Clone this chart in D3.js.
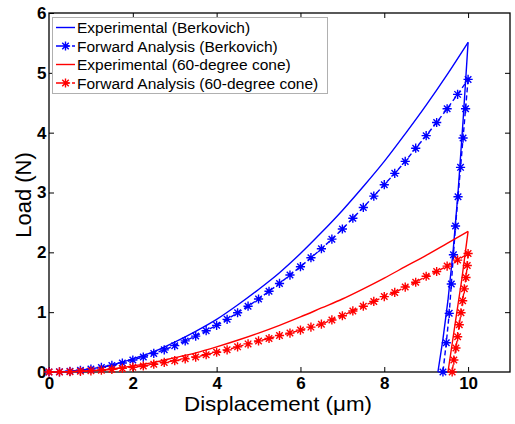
<!DOCTYPE html>
<html lang="en">
  <head>
    <meta charset="UTF-8" />
    <title>Load vs displacement</title>
    <style>
      body { margin: 0; background: #fff; }
      .axis text { font-family: "Liberation Sans", Arial, sans-serif; font-size: 17px; font-weight: bold; fill: #000; }
      .axis line { stroke: #000; stroke-width: 1; }
      .axis path { display: none; }
    </style>
  </head>
  <body>
    <div id="app"></div>
    <script src="https://cdn.jsdelivr.net/npm/d3@7"></script>
    <script>
      // Experimental (Berkovich) - solid blue
      const expBerkLoadD = [0, 0.5, 1, 1.5, 2, 2.5, 3, 3.5, 4, 4.5, 5, 5.5, 6, 6.5, 7, 7.5, 8, 8.5, 9, 9.5, 10];
      const expBerkLoadL = [0, 0.014, 0.055, 0.12, 0.22, 0.34, 0.5, 0.68, 0.88, 1.12, 1.38, 1.66, 1.98, 2.33, 2.7, 3.1, 3.52, 3.98, 4.46, 4.97, 5.51];
      const expBerkUnloadD = [10, 9.88, 9.76, 9.64, 9.52, 9.4, 9.28];
      const expBerkUnloadL = [5.51, 4.2, 3.0, 2.0, 1.2, 0.55, 0];

      // Forward Analysis (Berkovich) - blue dashed with stars
      const fwdBerkLoadD = [0, 0.25, 0.5, 0.75, 1, 1.25, 1.5, 1.75, 2, 2.25, 2.5, 2.75, 3, 3.25, 3.5, 3.75, 4, 4.25, 4.5, 4.75, 5,
        5.25, 5.5, 5.75, 6, 6.25, 6.5, 6.75, 7, 7.25, 7.5, 7.75, 8, 8.25, 8.5, 8.75, 9, 9.25, 9.5, 9.75, 10];
      const fwdBerkLoadL = [0, 0.003, 0.012, 0.028, 0.05, 0.077, 0.11, 0.15, 0.2, 0.25, 0.31, 0.37, 0.44, 0.52, 0.6, 0.69, 0.78, 0.88, 0.99, 1.1, 1.22,
        1.35, 1.48, 1.62, 1.76, 1.91, 2.06, 2.22, 2.39, 2.57, 2.75, 2.94, 3.13, 3.32, 3.52, 3.74, 3.95, 4.17, 4.4, 4.64, 4.89];
      const fwdBerkUnloadD = [10, 9.94, 9.88, 9.82, 9.76, 9.7, 9.65, 9.6, 9.55, 9.48, 9.4];
      const fwdBerkUnloadL = [4.89, 4.4, 3.91, 3.42, 2.93, 2.44, 1.96, 1.47, 0.98, 0.49, 0];

      // Experimental (60-degree cone) - solid red
      const expConeLoadD = [0, 0.5, 1, 1.5, 2, 2.5, 3, 3.5, 4, 4.5, 5, 5.5, 6, 6.5, 7, 7.5, 8, 8.5, 9, 9.5, 10];
      const expConeLoadL = [0, 0.005, 0.02, 0.05, 0.1, 0.16, 0.24, 0.32, 0.42, 0.53, 0.65, 0.78, 0.92, 1.07, 1.22, 1.39, 1.57, 1.76, 1.95, 2.15, 2.35];
      const expConeUnloadD = [10, 9.85, 9.7, 9.52];
      const expConeUnloadL = [2.35, 1.55, 0.85, 0];

      // Forward Analysis (60-degree cone) - red dashed with stars
      const fwdConeLoadD = fwdBerkLoadD;
      const fwdConeLoadL = [0, 0.002, 0.006, 0.012, 0.02, 0.03, 0.045, 0.06, 0.08, 0.1, 0.13, 0.16, 0.19, 0.22, 0.25, 0.29, 0.33, 0.37, 0.42, 0.47, 0.52,
        0.56, 0.61, 0.65, 0.7, 0.75, 0.8, 0.87, 0.94, 1.02, 1.1, 1.18, 1.26, 1.33, 1.42, 1.5, 1.6, 1.68, 1.77, 1.87, 1.98];
      const fwdConeUnloadD = [10, 9.98, 9.95, 9.91, 9.87, 9.83, 9.79, 9.75, 9.71, 9.66, 9.62];
      const fwdConeUnloadL = [1.98, 1.78, 1.58, 1.39, 1.19, 0.99, 0.79, 0.59, 0.4, 0.2, 0];

      const xTicks = [0, 2, 4, 6, 8, 10];
      const yTicks = [0, 1, 2, 3, 4, 5, 6];
      const legendLabels = [
        "Experimental (Berkovich)",
        "Forward Analysis (Berkovich)",
        "Experimental (60-degree cone)",
        "Forward Analysis (60-degree cone)"
      ];

      const width = 515, height = 424;
      const mLeft = 49, mRight = 510, mTop = 13, mBottom = 372;
      const blue = "#0000ff", red = "#ff0000";
      const font = '"Liberation Sans", Arial, sans-serif';

      const x = d3.scaleLinear().domain([0, 11]).range([mLeft, mRight]);
      const y = d3.scaleLinear().domain([0, 6]).range([mBottom, mTop]);

      const svg = d3.select("#app").append("svg")
        .attr("width", width).attr("height", height);

      const zip = (ds, ls) => ds.map((d, i) => [d, ls[i]]);
      const line = d3.line().x(d => x(d[0])).y(d => y(d[1]));
      const smooth = d3.line().x(d => x(d[0])).y(d => y(d[1])).curve(d3.curveMonotoneX);

      // axes
      svg.append("g").attr("class", "axis")
        .attr("transform", `translate(0,${mBottom})`)
        .call(d3.axisBottom(x).tickValues(xTicks).tickFormat(d3.format("d"))
          .tickSizeInner(-5).tickSizeOuter(0).tickPadding(5));
      svg.append("g").attr("class", "axis")
        .attr("transform", `translate(0,${mTop})`)
        .call(d3.axisTop(x).tickValues(xTicks.slice(1)).tickSizeInner(-5).tickSizeOuter(0).tickFormat(""));
      svg.append("g").attr("class", "axis")
        .attr("transform", `translate(${mLeft},0)`)
        .call(d3.axisLeft(y).tickValues(yTicks).tickFormat(d3.format("d"))
          .tickSizeInner(-5).tickSizeOuter(0).tickPadding(2.5));
      svg.append("g").attr("class", "axis")
        .attr("transform", `translate(${mRight},0)`)
        .call(d3.axisRight(y).tickValues(yTicks.slice(1, 6)).tickSizeInner(-5).tickSizeOuter(0).tickFormat(""));

      svg.append("rect")
        .attr("x", mLeft).attr("y", mTop)
        .attr("width", mRight - mLeft).attr("height", mBottom - mTop)
        .attr("fill", "none").attr("stroke", "#000").attr("stroke-width", 1.3);

      function star(g, pts, color) {
        const r = 4.6, k = r * Math.SQRT1_2;
        const p = `M${-r},0H${r}M0,${-r}V${r}M${-k},${-k}L${k},${k}M${-k},${k}L${k},${-k}`;
        g.selectAll(null).data(pts).enter().append("path")
          .attr("transform", d => `translate(${x(d[0])},${y(d[1])})`)
          .attr("d", p).attr("stroke", color).attr("stroke-width", 1.4).attr("fill", "none");
      }

      function series(loadD, loadL, unD, unL, color, dashed) {
        const g = svg.append("g");
        const load = zip(loadD, loadL), unload = zip(unD, unL);
        g.append("path").attr("d", (dashed ? line : smooth)(load))
          .attr("fill", "none").attr("stroke", color).attr("stroke-width", 1.4)
          .attr("stroke-dasharray", dashed ? "5,3" : null);
        g.append("path").attr("d", line(unload))
          .attr("fill", "none").attr("stroke", color).attr("stroke-width", 1.4)
          .attr("stroke-dasharray", dashed ? "5,3" : null);
        if (dashed) star(g, load.concat(unload.slice(1)), color);
      }

      series(expBerkLoadD, expBerkLoadL, expBerkUnloadD, expBerkUnloadL, blue, false);
      series(fwdBerkLoadD, fwdBerkLoadL, fwdBerkUnloadD, fwdBerkUnloadL, blue, true);
      series(expConeLoadD, expConeLoadL, expConeUnloadD, expConeUnloadL, red, false);
      series(fwdConeLoadD, fwdConeLoadL, fwdConeUnloadD, fwdConeUnloadL, red, true);

      // axis titles
      svg.append("text")
        .attr("x", 278).attr("y", 411)
        .attr("text-anchor", "middle")
        .attr("font-family", font).attr("font-size", 21)
        .attr("textLength", 188).attr("lengthAdjust", "spacingAndGlyphs")
        .text("Displacement (\u03bcm)");
      svg.append("text")
        .attr("transform", "translate(31,195) rotate(-90)")
        .attr("text-anchor", "middle")
        .attr("font-family", font).attr("font-size", 22)
        .text("Load (N)");

      // legend
      const leg = svg.append("g");
      leg.append("rect")
        .attr("x", 52.5).attr("y", 17.5).attr("width", 275).attr("height", 76)
        .attr("fill", "#fff").attr("stroke", "#b0b0b0").attr("stroke-width", 1);
      const legColors = [blue, blue, red, red];
      const legStar = [false, true, false, true];
      legendLabels.forEach((lab, i) => {
        const cy = 27.5 + i * 18.5;
        leg.append("line").attr("x1", 56).attr("x2", 75).attr("y1", cy).attr("y2", cy)
          .attr("stroke", legColors[i]).attr("stroke-width", 1.4)
          .attr("stroke-dasharray", legStar[i] ? "5,3" : null);
        if (legStar[i]) {
          const r = 4.6, k = r * Math.SQRT1_2;
          leg.append("path")
            .attr("transform", `translate(65.5,${cy})`)
            .attr("d", `M${-r},0H${r}M0,${-r}V${r}M${-k},${-k}L${k},${k}M${-k},${k}L${k},${-k}`)
            .attr("stroke", legColors[i]).attr("stroke-width", 1.4);
        }
        leg.append("text")
          .attr("x", 77).attr("y", cy + 5.5)
          .attr("font-family", font).attr("font-size", 15.5)
          .text(lab);
      });
    </script>
  </body>
</html>
